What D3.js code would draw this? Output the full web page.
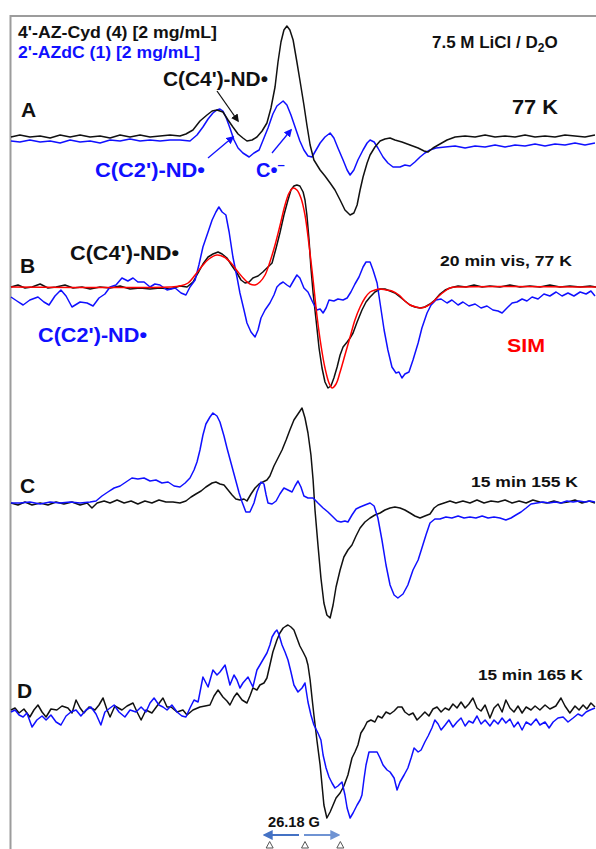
<!DOCTYPE html>
<html><head><meta charset="utf-8">
<script src="https://cdn.jsdelivr.net/npm/d3@7"></script>
<style>html,body{margin:0;padding:0;background:#fff;}svg{display:block;}text{font-family:"Liberation Sans",Arial,sans-serif;font-weight:bold;}</style>
</head><body>
<svg id="chart" width="596" height="849"></svg>
<script>
// field offset (G) vs. derivative intensity (arb. units)
const A_black=[[-108.9,0],[-105.6,2],[-101.9,0],[-98.1,1],[-94.4,-1],[-90.7,2],[-87.0,0],[-83.3,2],[-79.6,0],[-75.9,1],[-72.2,-1],[-68.5,2],[-64.8,0],[-61.1,2],[-57.4,0],[-53.7,1],[-50.0,2],[-46.3,1],[-44.1,3],[-41.5,7],[-38.9,16],[-36.3,22],[-34.4,26],[-32.6,27],[-30.4,25],[-28.5,17],[-26.7,10],[-24.8,3],[-23.0,-1],[-21.5,-4],[-19.6,-3],[-17.8,0],[-15.9,6],[-14.1,14],[-12.6,29],[-11.1,50],[-10.0,75],[-8.9,95],[-7.8,107],[-6.7,111],[-5.6,107],[-4.4,97],[-3.0,75],[-1.9,57],[-0.4,32],[0.7,12],[1.9,-8],[3.3,-23],[5.6,-33],[7.4,-39],[9.3,-46],[11.1,-53],[13.0,-63],[14.8,-73],[16.7,-78],[18.1,-76],[19.3,-68],[20.4,-53],[21.5,-40],[23.0,-26],[24.1,-18],[25.9,-10],[27.8,-4],[29.6,-2],[31.5,-1],[33.3,-3],[35.9,-5],[38.9,-8],[41.9,-11],[44.1,-14],[45.6,-15],[47.4,-11],[50.0,-7],[52.6,-3],[55.6,0],[59.3,1],[63.0,0],[66.7,2],[70.4,0],[74.1,1],[77.8,0],[81.5,2],[85.2,0],[88.9,1],[92.6,0],[96.3,2],[100.0,1],[103.7,0],[107.4,2]];
const A_blue=[[-108.9,-4],[-105.6,-5],[-101.9,-3],[-98.1,-5],[-94.4,-4],[-90.7,-6],[-87.0,-3],[-83.3,-5],[-79.6,-4],[-75.9,-6],[-72.2,-3],[-68.5,-4],[-64.8,-2],[-61.1,-4],[-57.4,-3],[-53.7,-4],[-50.0,-3],[-46.3,-3],[-42.6,-4],[-40.0,2],[-37.8,10],[-35.9,18],[-34.1,24],[-32.6,27],[-31.5,28],[-30.4,26],[-29.3,20],[-27.8,9],[-26.3,-3],[-24.8,-11],[-23.0,-16],[-20.7,-20],[-18.9,-16],[-17.0,-13],[-15.2,-1],[-13.7,9],[-11.9,23],[-10.4,31],[-8.1,36],[-6.7,32],[-5.2,22],[-3.3,7],[-1.9,-4],[-0.4,-13],[1.1,-19],[2.6,-20],[4.1,-13],[5.6,-6],[7.4,0],[9.3,4],[10.7,-1],[12.2,-11],[14.1,-23],[15.6,-33],[16.7,-38],[18.1,-33],[19.6,-23],[21.5,-13],[23.0,-6],[24.1,-3],[25.6,-5],[27.0,-11],[28.9,-20],[30.7,-26],[32.6,-30],[35.2,-30],[37.0,-28],[38.9,-29],[40.7,-25],[42.6,-20],[44.4,-16],[46.3,-13],[48.5,-11],[51.9,-10],[55.6,-9],[59.3,-11],[63.0,-9],[66.7,-10],[70.4,-8],[74.1,-10],[77.8,-8],[81.5,-9],[85.2,-7],[88.9,-9],[92.6,-7],[96.3,-8],[100.0,-6],[103.7,-8],[107.4,-6]];
const B_black=[[-108.9,0],[-106.3,2],[-103.7,-1],[-101.1,0],[-98.1,3],[-95.2,-1],[-92.2,0],[-88.9,2],[-85.9,-1],[-82.6,0],[-79.6,-2],[-75.9,0],[-72.2,-1],[-68.5,1],[-64.8,-2],[-61.1,-1],[-57.4,-2],[-53.7,-1],[-50.0,-2],[-46.3,1],[-43.7,0],[-41.5,5],[-39.6,14],[-37.8,23],[-35.9,30],[-34.1,33],[-32.2,35],[-30.7,33],[-28.9,29],[-27.0,21],[-25.2,14],[-23.7,7],[-22.2,4],[-20.7,5],[-19.3,9],[-17.4,11],[-15.6,15],[-14.1,19],[-12.2,24],[-10.7,39],[-9.3,54],[-7.8,72],[-6.3,87],[-5.2,97],[-4.1,101],[-3.0,102],[-1.9,101],[-0.7,95],[0,87],[0.7,72],[1.5,47],[2.2,19],[3.0,-6],[4.1,-33],[5.2,-61],[6.3,-81],[7.4,-95],[8.5,-101],[9.6,-99],[10.7,-91],[11.9,-80],[13.0,-68],[14.1,-60],[15.6,-55],[16.7,-51],[17.8,-46],[19.3,-35],[21.1,-23],[22.6,-15],[24.1,-10],[25.9,-5],[27.8,-2],[29.6,-2],[31.5,-4],[33.3,-6],[35.2,-10],[37.0,-14],[38.9,-18],[40.7,-20],[42.6,-21],[44.4,-20],[46.3,-17],[48.1,-13],[50.0,-7],[51.9,-3],[53.7,-1],[56.7,1],[59.6,0],[62.6,2],[65.6,0],[68.5,1],[72.2,0],[75.9,2],[79.6,0],[83.3,1],[87.0,0],[90.7,2],[94.4,0],[98.1,1],[101.9,0],[105.6,1],[107.8,0]];
const B_sim=[[-108.9,0],[-50.0,0],[-46.3,1],[-43.3,4],[-40.7,12],[-38.1,21],[-35.6,28],[-32.6,32],[-30.0,30],[-27.4,24],[-24.8,15],[-22.2,7],[-20.4,3],[-18.5,2],[-16.7,5],[-14.8,12],[-13.0,25],[-11.1,42],[-9.3,61],[-7.4,82],[-5.9,94],[-4.4,99],[-3.0,97],[-1.5,89],[0,72],[1.5,42],[3.0,7],[4.4,-28],[5.9,-58],[7.4,-81],[8.9,-96],[10.0,-101],[11.5,-97],[13.0,-85],[14.8,-68],[16.7,-50],[18.5,-33],[20.4,-20],[22.2,-11],[24.1,-5],[25.9,-3],[27.8,-2],[30.0,-3],[32.2,-4],[34.8,-8],[37.0,-14],[38.9,-18],[41.1,-20],[43.0,-21],[45.2,-19],[47.4,-15],[49.6,-9],[51.9,-4],[53.7,-1],[56.7,0],[107.8,0]];
const B_blue=[[-108.9,-10],[-106.7,-14],[-104.4,-18],[-101.9,-13],[-98.9,-10],[-96.7,-15],[-94.8,-18],[-92.6,-9],[-90.4,-3],[-88.5,-9],[-86.3,-20],[-83.3,-15],[-80.7,-16],[-78.5,-19],[-76.3,-11],[-74.1,-7],[-72.2,0],[-70.0,2],[-67.8,9],[-65.6,6],[-63.7,9],[-61.9,5],[-59.6,5],[-57.4,0],[-55.6,3],[-53.7,2],[-51.1,-3],[-48.1,-1],[-45.9,-6],[-44.1,-8],[-42.6,0],[-40.7,7],[-39.3,22],[-37.8,40],[-35.9,55],[-34.4,67],[-33.0,75],[-31.9,80],[-30.7,75],[-29.3,72],[-28.1,55],[-26.7,30],[-25.2,10],[-24.1,-6],[-22.6,-23],[-21.5,-36],[-20.0,-45],[-18.5,-50],[-17.4,-43],[-16.3,-31],[-14.8,-23],[-13.0,-16],[-11.5,-8],[-10.4,0],[-9.3,3],[-8.1,5],[-6.7,2],[-5.6,0],[-4.1,7],[-3.0,12],[-1.9,9],[-0.4,-1],[1.1,-5],[3.0,-16],[4.4,-23],[5.6,-22],[6.7,-26],[7.8,-21],[8.9,-13],[10.7,-14],[12.2,-12],[14.1,-13],[15.6,-11],[17.0,-5],[18.5,3],[20.0,10],[21.5,20],[22.6,25],[24.1,25],[25.2,17],[26.7,4],[27.8,-16],[29.3,-43],[30.7,-63],[32.2,-80],[33.7,-86],[34.8,-85],[35.9,-91],[37.0,-87],[38.5,-85],[40.0,-73],[41.9,-56],[43.3,-41],[45.2,-26],[46.7,-18],[48.5,-13],[50.4,-12],[52.6,-16],[54.4,-13],[56.7,-18],[58.5,-15],[60.7,-19],[63.0,-17],[65.2,-21],[67.4,-19],[69.6,-23],[71.5,-24],[73.0,-26],[74.8,-21],[76.7,-16],[78.5,-15],[80.4,-12],[82.2,-14],[84.1,-10],[86.3,-12],[88.5,-7],[90.7,-9],[93.0,-5],[95.2,-9],[97.4,-6],[99.6,-9],[101.9,-5],[104.1,-7],[105.9,-4],[107.4,-9]];
const C_black=[[-108.9,0],[-106.3,-2],[-103.7,1],[-101.1,-2],[-98.1,0],[-95.2,-2],[-92.2,1],[-89.3,-1],[-86.3,1],[-83.3,-2],[-80.7,0],[-78.9,-5],[-77.0,0],[-74.4,2],[-72.2,0],[-69.6,3],[-67.0,0],[-64.4,2],[-61.9,-1],[-59.3,2],[-56.7,0],[-54.1,3],[-51.5,1],[-48.9,1],[-46.3,0],[-44.1,2],[-42.2,6],[-40.4,9],[-38.5,12],[-36.7,16],[-34.4,20],[-33.0,21],[-31.5,19],[-30.0,18],[-28.5,13],[-27.0,8],[-25.6,4],[-24.1,3],[-22.6,4],[-21.5,2],[-20.0,9],[-18.5,15],[-17.0,19],[-15.6,21],[-14.1,23],[-13.0,27],[-11.5,37],[-10.0,45],[-8.5,53],[-7.0,63],[-5.6,73],[-4.1,83],[-2.6,89],[-1.1,95],[0,85],[1.1,70],[2.2,48],[3.0,23],[3.7,-7],[4.8,-42],[5.9,-75],[7.0,-100],[8.1,-112],[9.3,-115],[10.4,-102],[11.5,-84],[13.0,-67],[14.4,-54],[15.9,-47],[17.4,-42],[18.9,-33],[20.4,-25],[22.2,-19],[24.1,-15],[25.9,-12],[27.8,-10],[29.6,-7],[31.5,-5],[33.3,-4],[35.2,-5],[37.0,-7],[38.9,-10],[40.7,-13],[42.6,-15],[44.4,-13],[46.3,-11],[47.8,-5],[49.3,-2],[51.5,0],[53.7,2],[55.9,0],[58.5,2],[61.1,0],[63.7,3],[66.3,0],[68.9,2],[71.5,1],[74.1,3],[76.7,0],[79.3,2],[81.9,0],[84.4,3],[87.0,1],[89.6,0],[92.2,2],[94.8,0],[97.4,1],[100.0,3],[102.6,0],[105.2,2],[107.4,0]];
const C_blue=[[-108.9,0],[-105.6,0],[-101.9,1],[-98.1,-1],[-94.4,1],[-90.7,0],[-87.0,1],[-83.3,0],[-79.6,1],[-77.4,2],[-75.2,7],[-73.0,11],[-70.7,15],[-68.5,17],[-66.3,21],[-64.1,25],[-61.9,24],[-59.6,25],[-57.4,22],[-55.2,23],[-53.0,20],[-50.7,21],[-48.5,17],[-46.3,16],[-44.4,20],[-42.6,25],[-41.1,33],[-40.0,41],[-38.9,53],[-37.8,68],[-36.7,79],[-35.2,86],[-34.1,90],[-32.6,87],[-31.5,81],[-30.0,67],[-28.9,55],[-27.4,40],[-25.9,25],[-24.4,10],[-23.3,1],[-21.9,-9],[-20.4,-9],[-18.9,0],[-17.8,11],[-16.3,21],[-15.2,19],[-14.4,8],[-13.7,0],[-12.2,-1],[-10.7,2],[-9.3,9],[-7.8,15],[-6.3,13],[-4.8,11],[-3.7,17],[-2.6,22],[-1.5,16],[-0.4,7],[1.1,5],[3.0,5],[4.8,0],[6.7,-5],[8.5,-9],[10.4,-14],[11.9,-18],[13.3,-19],[14.8,-18],[15.9,-19],[17.4,-12],[18.9,-6],[20.4,-4],[22.2,-2],[24.1,0],[25.6,-3],[27.0,-15],[28.5,-37],[30.0,-62],[31.5,-82],[33.0,-92],[34.4,-95],[36.3,-91],[38.1,-82],[40.0,-67],[41.9,-57],[43.3,-45],[44.8,-32],[46.3,-20],[48.1,-16],[50.0,-16],[52.2,-14],[54.4,-15],[56.7,-13],[58.9,-15],[61.1,-14],[63.3,-15],[65.6,-13],[67.8,-15],[70.0,-14],[72.2,-15],[74.4,-17],[76.3,-15],[78.1,-12],[80.0,-9],[81.9,-5],[83.7,-1],[85.9,0],[88.1,1],[90.4,0],[92.6,1],[94.8,0],[97.0,2],[99.3,1],[101.5,2],[103.7,1],[105.6,2],[107.4,1]];
const D_black=[[-108.9,2],[-107.4,4],[-105.9,-1],[-104.1,3],[-101.9,-5],[-100.4,2],[-98.9,7],[-97.4,0],[-95.9,-5],[-94.1,3],[-91.9,2],[-90.0,6],[-87.8,4],[-86.3,-1],[-84.8,12],[-83.3,4],[-81.9,-1],[-80.0,5],[-77.8,2],[-76.3,7],[-74.8,14],[-73.3,2],[-72.2,-5],[-70.4,6],[-67.8,2],[-65.9,6],[-63.7,9],[-62.2,0],[-60.7,-8],[-58.9,2],[-56.7,-1],[-54.8,6],[-52.6,14],[-51.1,5],[-49.6,5],[-47.4,0],[-45.2,2],[-43.7,-3],[-41.5,2],[-38.9,5],[-37.0,6],[-35.2,7],[-33.7,16],[-32.2,22],[-30.4,15],[-28.9,11],[-27.8,7],[-26.3,15],[-25.2,19],[-23.3,12],[-21.5,9],[-20.4,16],[-19.3,24],[-17.8,22],[-16.7,27],[-15.2,29],[-14.1,34],[-13.0,47],[-11.9,60],[-10.4,72],[-9.3,79],[-8.1,84],[-7.0,86],[-6.3,87],[-5.2,85],[-4.1,82],[-3.0,74],[-1.9,66],[-0.7,60],[0.4,54],[1.1,47],[1.9,32],[2.6,14],[3.3,-3],[4.4,-28],[5.6,-53],[6.3,-73],[7.0,-93],[8.1,-106],[9.3,-100],[10.4,-93],[11.5,-86],[13.0,-81],[14.4,-74],[15.9,-63],[17.4,-46],[18.5,-40],[19.6,-33],[20.7,-21],[21.9,-16],[23.0,-10],[24.4,-8],[25.9,-10],[27.0,-4],[28.5,-6],[30.0,0],[31.5,-2],[33.0,1],[34.4,5],[35.9,5],[37.0,0],[38.5,-3],[40.0,-1],[41.5,-8],[43.0,-4],[44.4,0],[45.9,-4],[47.4,3],[48.9,5],[50.4,0],[51.9,4],[53.3,2],[54.8,8],[56.3,4],[57.8,10],[59.3,4],[60.7,8],[62.2,14],[63.7,4],[65.2,1],[66.7,7],[68.5,-6],[70.0,4],[71.5,8],[73.0,0],[74.4,12],[75.9,4],[77.4,0],[78.9,6],[80.4,-1],[81.9,5],[83.7,2],[85.2,6],[87.0,2],[88.9,7],[90.7,3],[92.9,6],[94.8,14],[96.3,6],[98.1,-1],[100.0,6],[101.5,2],[103.0,7],[104.4,3],[105.9,9],[107.4,5]];
const D_blue=[[-108.9,0],[-107.4,2],[-105.9,-3],[-104.4,-5],[-103.0,-1],[-101.1,-15],[-99.3,-8],[-97.4,-4],[-95.9,-8],[-94.1,-3],[-92.2,-10],[-90.4,-13],[-88.5,-4],[-86.7,0],[-84.8,2],[-83.0,-4],[-81.1,2],[-79.3,5],[-77.4,-2],[-75.6,-13],[-74.1,0],[-72.2,4],[-70.7,7],[-68.9,0],[-66.7,-5],[-64.8,2],[-62.6,0],[-60.7,5],[-58.9,0],[-57.4,9],[-55.9,14],[-54.1,7],[-52.6,5],[-51.1,2],[-49.3,7],[-47.4,0],[-45.6,-4],[-44.1,-5],[-42.6,4],[-41.1,12],[-39.6,10],[-37.8,35],[-35.9,25],[-34.1,42],[-32.6,37],[-31.5,40],[-29.6,47],[-27.8,27],[-26.3,37],[-25.2,32],[-24.1,24],[-23.0,29],[-21.1,35],[-19.3,25],[-17.8,42],[-16.7,47],[-15.2,54],[-14.1,59],[-13.0,67],[-12.2,75],[-11.1,80],[-10.4,82],[-9.6,77],[-8.5,67],[-7.4,60],[-6.3,52],[-5.2,40],[-4.1,27],[-2.6,20],[-1.1,24],[0,29],[1.1,10],[2.2,-3],[3.3,-13],[4.8,-21],[5.9,-28],[6.7,-43],[7.8,-56],[8.9,-65],[10.0,-71],[11.1,-76],[12.2,-74],[13.7,-70],[14.8,-83],[15.6,-96],[16.7,-106],[17.8,-101],[19.3,-93],[20.4,-88],[21.1,-83],[21.9,-66],[22.6,-53],[23.7,-40],[25.2,-40],[26.7,-40],[27.8,-46],[28.9,-53],[30.4,-58],[31.5,-60],[33.0,-66],[34.1,-78],[35.2,-70],[36.7,-63],[38.1,-56],[39.3,-46],[40.4,-36],[41.9,-40],[43.0,-38],[44.4,-30],[45.6,-24],[47.0,-16],[48.1,-8],[49.3,-12],[50.4,-18],[51.9,-13],[53.3,-8],[54.8,-15],[56.3,-10],[57.8,-6],[59.3,-14],[60.7,-9],[62.2,-11],[63.7,-4],[65.2,-12],[66.7,-8],[68.5,-14],[70.0,-8],[71.5,-12],[73.0,-6],[74.4,-11],[75.9,-7],[77.4,-15],[78.9,-10],[80.4,-18],[81.9,-10],[83.7,-13],[85.6,-7],[87.0,-13],[88.9,-10],[90.4,-16],[91.9,-10],[93.7,-6],[95.6,-5],[97.4,-10],[99.3,-6],[101.1,-2],[102.6,-4],[104.1,0],[105.6,2],[107.4,4]];

const panelLabels=["A","B","C","D"];
const conditionLabels=["77 K","20 min vis, 77 K","15 min 155 K","15 min 165 K"];
const legendLabels=["4'-AZ-Cyd (4) [2 mg/mL]","2'-AZdC (1) [2 mg/mL]"];
const markerFields=[-13.09,0,13.09];
const spacingLabel="26.18 G";

const BLACK="#111111", BLUE="#1010ff", RED="#ff0000";
const svg=d3.select("#chart");
const x=d3.scaleLinear().domain([-110,110]).range([8,602]);
const baselines=[137,287,503,712];
const yFor=b=>d3.scaleLinear().domain([-150,150]).range([b+150,b-150]);
const yA=yFor(baselines[0]), yB=yFor(baselines[1]), yC=yFor(baselines[2]), yD=yFor(baselines[3]);

// frame
svg.append("line").attr("x1",10.5).attr("y1",15).attr("x2",10.5).attr("y2",849).attr("stroke","#9c9c9c").attr("stroke-width",2);
svg.append("line").attr("x1",10).attr("y1",16).attr("x2",596).attr("y2",16).attr("stroke","#9c9c9c").attr("stroke-width",2);

const defs=svg.append("defs");
function marker(id,color,size){
  defs.append("marker").attr("id",id).attr("viewBox","0 0 10 10").attr("refX",8).attr("refY",5)
   .attr("markerWidth",size).attr("markerHeight",size).attr("orient","auto-start-reverse").attr("markerUnits","userSpaceOnUse")
   .append("path").attr("d","M0,0L10,5L0,10z").attr("fill",color);
}
marker("ah-black",BLACK,8);marker("ah-blue",BLUE,8);marker("ah-steel","#4472c4",10);marker("ah-steel2","#6f93d3",10);

function trace(data,ys,color,curve){
  svg.append("path").datum(data)
    .attr("d",d3.line().x(d=>x(d[0])).y(d=>ys(d[1])).curve(curve||d3.curveLinear))
    .attr("fill","none").attr("stroke",color).attr("stroke-width",1.5).attr("stroke-linejoin","round");
}
trace(D_black,yD,BLACK);
trace(D_blue,yD,BLUE);
trace(C_black,yC,BLACK);
trace(C_blue,yC,BLUE);
trace(B_black,yB,BLACK);
trace(B_blue,yB,BLUE);
trace(B_sim,yB,RED,d3.curveCatmullRom);
trace(A_blue,yA,BLUE);
trace(A_black,yA,BLACK);

function label(t,x0,y0,size,color,len){
  const el=svg.append("text").attr("x",x0).attr("y",y0).attr("font-size",size).attr("fill",color).text(t);
  if(len){el.attr("textLength",len).attr("lengthAdjust","spacingAndGlyphs");}
  return el;
}
// legend
label(legendLabels[0],18,38,17,BLACK,199);
label(legendLabels[1],18,58,17,BLUE,182);
// solvent
const solv=svg.append("text").attr("x",432).attr("y",48).attr("font-size",17).attr("fill",BLACK);
solv.append("tspan").text("7.5 M LiCl / D");
solv.append("tspan").attr("font-size",12).attr("dy",4).text("2");
solv.append("tspan").attr("dy",-4).text("O");
// panel letters
const letterPos=[[21,117],[20,273],[20,493],[17,698]];
panelLabels.forEach((p,i)=>label(p,letterPos[i][0],letterPos[i][1],21,BLACK));
// conditions
const condPos=[[512,114,20,46],[440,266,15.5,132],[471,487,15.5,107],[478,680,15.5,105]];
conditionLabels.forEach((c,i)=>label(c,condPos[i][0],condPos[i][1],condPos[i][2],BLACK,condPos[i][3]));
// radical annotations
label("C(C4')-ND\u2022",163,86,20,BLACK,105);
label("C(C2')-ND\u2022",95,177,20,BLUE,110);
const cm=svg.append("text").attr("x",256).attr("y",177).attr("font-size",20).attr("fill",BLUE);
cm.append("tspan").text("C\u2022");
cm.append("tspan").attr("dy",-8).attr("font-size",13).text("\u2013");
label("C(C4')-ND\u2022",70,260,20,BLACK,109);
label("C(C2')-ND\u2022",38,342,20,BLUE,109);
label("SIM",507,352,19,RED,38);
// annotation arrows
function arrow(x1,y1,x2,y2,color,m,w){
  svg.append("line").attr("x1",x1).attr("y1",y1).attr("x2",x2).attr("y2",y2).attr("stroke",color).attr("stroke-width",w||1.3).attr("marker-end","url(#"+m+")");
}
arrow(217,91,238,121,BLACK,"ah-black");
arrow(208,158,233,137,BLUE,"ah-blue");
arrow(272,153,291,130,BLUE,"ah-blue");
// field markers
label(spacingLabel,268,827,14,BLACK,52);
const xm=markerFields.map(f=>x(f));
arrow(xm[1]-6,835,xm[0]-5,835,"#4472c4","ah-steel",2);
arrow(xm[1]-1,835,xm[2]-2,835,"#6f93d3","ah-steel2",2);
svg.selectAll("path.tri").data(markerFields).enter().append("path").attr("class","tri")
  .attr("d",f=>{const c=x(f);return `M${c-3.5},848L${c},841.5L${c+3.5},848Z`;})
  .attr("fill","#fff").attr("stroke","#555").attr("stroke-width",1);
</script>
</body></html>
